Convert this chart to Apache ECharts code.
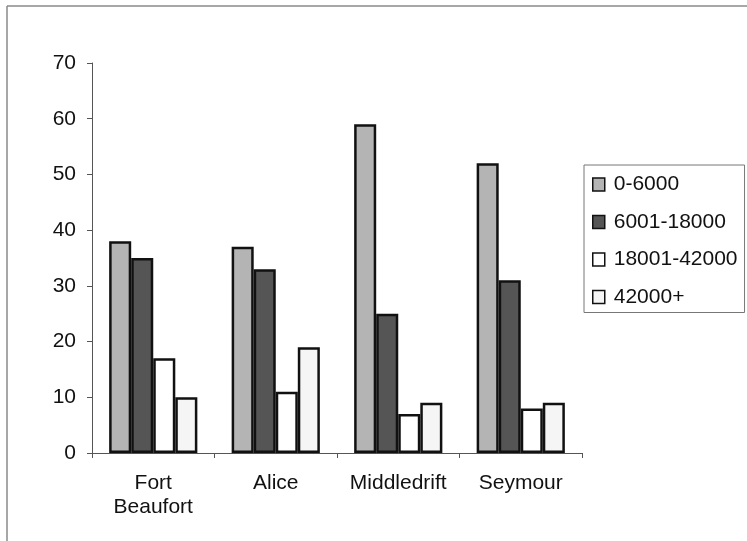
<!DOCTYPE html>
<html>
<head>
<meta charset="utf-8">
<script src="https://cdn.jsdelivr.net/npm/echarts@6/dist/echarts.min.js"></script>
<style>
  html, body { margin: 0; padding: 0; background: #fff; }
  #chart { width: 747px; height: 541px; }
</style>
</head>
<body>
<div id="chart"></div>
<script>
// Household income bands per town (%)
const towns = ['Fort\nBeaufort', 'Alice', 'Middledrift', 'Seymour'];
const bandLow = [38, 37, 59, 52];        // 0-6000
const bandMid = [35, 33, 25, 31];        // 6001-18000
const bandHigh = [17, 11, 7, 8];         // 18001-42000
const bandTop = [10, 19, 9, 9];          // 42000+
const bandNames = ['0-6000', '6001-18000', '18001-42000', '42000+'];
const yTicks = [0, 10, 20, 30, 40, 50, 60, 70];

const fills = ['#b4b4b4', '#555555', '#ffffff', '#f5f5f5'];
const FONT = 'Liberation Sans, Arial, sans-serif';

const chart = echarts.init(document.getElementById('chart'), null, { renderer: 'canvas' });

function bar(name, data, i) {
  return {
    name: name,
    type: 'bar',
    data: data,
    barGap: '0%',
    barCategoryGap: '28%',
    itemStyle: { color: fills[i], borderColor: '#111', borderWidth: 2.5 },
    emphasis: { disabled: true }
  };
}

chart.setOption({
  animation: false,
  backgroundColor: '#fff',
  textStyle: { fontFamily: FONT },
  graphic: [
    { type: 'line', shape: { x1: 7, y1: 6, x2: 747, y2: 6 }, style: { stroke: '#8a8a8a', lineWidth: 1.5 } },
    { type: 'line', shape: { x1: 7, y1: 6, x2: 7, y2: 541 }, style: { stroke: '#8a8a8a', lineWidth: 1.5 } }
  ],
  grid: { left: 92, right: 165, top: 63, bottom: 88, containLabel: false },
  legend: {
    orient: 'vertical',
    left: 584,
    top: 165,
    data: bandNames,
    icon: 'rect',
    itemWidth: 12,
    itemHeight: 13,
    itemGap: 16.5,
    padding: [9, 7, 5, 8],
    borderColor: '#777',
    borderWidth: 1,
    textStyle: { fontSize: 21, lineHeight: 21, color: '#111', fontFamily: FONT, padding: [0, 0, 0, 4] },
    itemStyle: { borderWidth: 1.5, borderColor: '#111' }
  },
  xAxis: {
    type: 'category',
    data: towns,
    axisLine: { lineStyle: { color: '#555', width: 1 } },
    axisTick: { show: true, length: 5, interval: 0, lineStyle: { color: '#555' } },
    axisLabel: { fontSize: 21, color: '#111', lineHeight: 24, margin: 18, fontFamily: FONT, interval: 0 }
  },
  yAxis: {
    type: 'value',
    min: yTicks[0],
    max: yTicks[yTicks.length - 1],
    interval: 10,
    axisLine: { show: true, lineStyle: { color: '#555', width: 1 } },
    axisTick: { show: true, length: 5, lineStyle: { color: '#555' } },
    splitLine: { show: false },
    axisLabel: { fontSize: 21, color: '#111', margin: 16, fontFamily: FONT }
  },
  series: [
    bar(bandNames[0], bandLow, 0),
    bar(bandNames[1], bandMid, 1),
    bar(bandNames[2], bandHigh, 2),
    bar(bandNames[3], bandTop, 3)
  ]
});
</script>
</body>
</html>
